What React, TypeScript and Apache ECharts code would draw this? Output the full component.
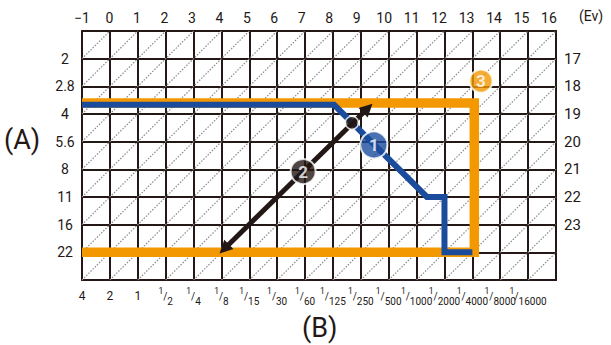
import React, { useEffect, useRef } from "react";
import * as echarts from "echarts";

// ---- tick labels ----
const evValues = [-1, 0, 1, 2, 3, 4, 5, 6, 7, 8, 9, 10, 11, 12, 13, 14, 15, 16];
const shutterLabels = ["4", "2", "1", "1/2", "1/4", "1/8", "1/15", "1/30", "1/60", "1/125", "1/250", "1/500", "1/1000", "1/2000", "1/4000", "1/8000", "1/16000"];
const apertureLabels = ["2", "2.8", "4", "5.6", "8", "11", "16", "22"];
const evRightLabels = ["17", "18", "19", "20", "21", "22", "23"];

// ---- data: x = shutter step index, y = aperture step index (1 = F2 ... 8 = F22) ----
const programLine = [[0, 2.67], [9.04, 2.67], [12.37, 6.0], [13, 6.0], [13, 8.0], [14, 8.0]];
const rangeFrame = [[0, 2.6], [14.07, 2.6], [14.07, 8.0], [0, 8.0]];
const shiftArrow = [[5.1, 7.88], [10.25, 2.79]];
const shiftPoint = [[9.68, 3.32]];
const badgeNames = ["1", "2", "3"];
const badgePositions = [[10.47, 4.12], [7.93, 5.08], [14.31, 1.81]];

const ORANGE = "#F39800";
const BLUE = "#1B4C9C";
const INK = "#231815";
const FONT = "Roboto, 'Liberation Sans', sans-serif";

const COLS = 17;
const ROWS = 9;

export default function App() {
  const ref = useRef<HTMLDivElement>(null);
  useEffect(() => {
    if (!ref.current) return;
    const chart = echarts.init(ref.current, null, { renderer: "svg" });

    // dotted diagonals of the grid cells (x + y = const through grid corners)
    const diagonals: any[] = [];
    for (let c = 1; c < COLS + ROWS; c++) {
      const x1 = Math.max(0, c - ROWS);
      const x2 = Math.min(COLS, c);
      diagonals.push({ coords: [[x1, c - x1], [x2, c - x2]] });
    }

    const shutterFormatter = (v: number) => {
      const s = shutterLabels[Math.round(v)];
      if (s === undefined) return "";
      if (s.startsWith("1/")) return `{sup|1}{sl|/}{sub|${s.slice(2)}}`;
      return `{n|${s}}`;
    };

    const shutterLabelStyle = (parity: number) => ({
      customValues: shutterLabels.map((_, i) => i).filter((i) => i % 2 === parity),
      formatter: shutterFormatter,
      hideOverlap: false,
      showMinLabel: true,
      showMaxLabel: true,
      margin: 6,
      color: INK,
      rich: {
        n: { fontSize: 12, lineHeight: 20, color: INK, fontFamily: FONT },
        sup: { fontSize: 8.5, lineHeight: 10, verticalAlign: "top", color: INK, fontFamily: FONT },
        sl: { fontSize: 10, lineHeight: 20, color: INK, fontFamily: FONT },
        sub: { fontSize: 10, lineHeight: 11, verticalAlign: "bottom", color: INK, fontFamily: FONT },
      },
    });

    const gridLine = { show: true, onZero: false, lineStyle: { color: INK, width: 2 } };
    const splitStyle = { show: true, lineStyle: { color: INK, width: 2 } };

    const option: any = {
      animation: false,
      textStyle: { fontFamily: FONT },
      grid: { left: 82, right: 55, top: 31, bottom: 65, containLabel: false },
      xAxis: [
        {
          type: "value",
          position: "bottom",
          min: 0,
          max: COLS,
          interval: 1,
          axisLine: gridLine,
          axisTick: { show: false },
          splitLine: splitStyle,
          axisLabel: shutterLabelStyle(0),
        },
        {
          type: "value",
          position: "top",
          min: -1,
          max: 16.255,
          axisLine: gridLine,
          axisTick: { show: false },
          splitLine: { show: false },
          axisLabel: {
            customValues: evValues,
            formatter: (v: number) => (v < 0 ? "\u2212" + Math.abs(v) : String(v)),
            showMinLabel: true,
            showMaxLabel: true,
            hideOverlap: false,
            margin: 6,
            fontSize: 14,
            color: INK,
            fontFamily: FONT,
          },
        },
        {
          type: "value",
          position: "bottom",
          min: 0,
          max: COLS,
          interval: 1,
          axisLine: { show: false, onZero: false },
          axisTick: { show: false },
          splitLine: { show: false },
          axisLabel: shutterLabelStyle(1),
        },
      ],
      yAxis: [
        {
          type: "value",
          position: "left",
          inverse: true,
          min: 0,
          max: ROWS,
          interval: 1,
          axisLine: gridLine,
          axisTick: { show: false },
          splitLine: splitStyle,
          axisLabel: {
            customValues: apertureLabels.map((_, i) => i + 1),
            formatter: (v: number) => apertureLabels[Math.round(v) - 1] ?? "",
            showMinLabel: true,
            showMaxLabel: true,
            margin: 17,
            align: "center",
            fontSize: 14,
            color: INK,
            fontFamily: FONT,
          },
        },
        {
          type: "value",
          position: "right",
          inverse: true,
          min: 0,
          max: ROWS,
          interval: 1,
          axisLine: gridLine,
          axisTick: { show: false },
          splitLine: { show: false },
          axisLabel: {
            customValues: evRightLabels.map((_, i) => i + 1),
            formatter: (v: number) => evRightLabels[Math.round(v) - 1] ?? "",
            showMinLabel: true,
            showMaxLabel: true,
            margin: 8,
            fontSize: 15,
            color: INK,
            fontFamily: FONT,
            padding: [3, 0, 0, 0],
          },
        },
      ],
      series: [
        {
          type: "lines",
          coordinateSystem: "cartesian2d",
          xAxisIndex: 0,
          yAxisIndex: 0,
          silent: true,
          z: 1,
          data: diagonals,
          lineStyle: { color: "#8a8a8a", width: 1.2, type: [1.5, 1.5], opacity: 1 },
        },
        {
          type: "line",
          xAxisIndex: 0,
          yAxisIndex: 0,
          data: rangeFrame,
          showSymbol: false,
          silent: true,
          z: 3,
          lineStyle: { color: ORANGE, width: 9.5, join: "miter", cap: "butt" },
        },
        {
          type: "line",
          xAxisIndex: 0,
          yAxisIndex: 0,
          data: programLine,
          showSymbol: false,
          silent: true,
          z: 4,
          lineStyle: { color: BLUE, width: 6, join: "miter", cap: "butt" },
        },
        {
          type: "lines",
          coordinateSystem: "cartesian2d",
          xAxisIndex: 0,
          yAxisIndex: 0,
          silent: true,
          z: 5,
          symbol: ["triangle", "triangle"],
          symbolSize: [13, 13],
          data: [{ coords: shiftArrow }],
          lineStyle: { color: INK, width: 5, opacity: 1 },
          itemStyle: { color: INK },
        },
        {
          type: "scatter",
          xAxisIndex: 0,
          yAxisIndex: 0,
          silent: true,
          z: 6,
          data: shiftPoint,
          symbol: "circle",
          symbolSize: 13,
          itemStyle: { color: INK, borderColor: "#fff", borderWidth: 1.5 },
        },
        {
          type: "scatter",
          xAxisIndex: 0,
          yAxisIndex: 0,
          silent: true,
          z: 7,
          data: badgeNames.map((n, i) => ({
            name: n,
            value: badgePositions[i],
            symbolSize: [27, 25, 23][i],
            itemStyle: { color: [BLUE, INK, ORANGE][i] },
          })),
          symbol: "circle",
          itemStyle: { borderColor: "#fff", borderWidth: 2 },
          label: {
            show: true,
            position: "inside",
            formatter: (p: any) => p.name,
            color: "#fff",
            fontWeight: "bold",
            fontSize: 17,
            fontFamily: FONT,
          },
        },
      ],
      graphic: [
        { type: "text", left: 4, top: 126, style: { text: "(A)", fontSize: 27, fill: INK, fontFamily: FONT } },
        { type: "text", left: 302, top: 314, style: { text: "(B)", fontSize: 27, fill: INK, fontFamily: FONT } },
        { type: "text", left: 579, top: 9, style: { text: "(Ev)", fontSize: 14, fill: INK, fontFamily: FONT } },
      ],
    };
    chart.setOption(option);
    return () => chart.dispose();
  }, []);

  return (
    <div
      ref={ref}
      style={{ position: "fixed", left: 0, top: 0, width: 611, height: 345, background: "#fff" }}
    />
  );
}
